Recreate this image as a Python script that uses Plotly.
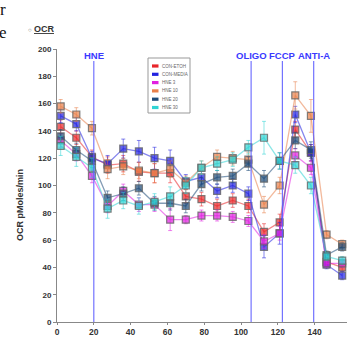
import plotly.graph_objects as go

# ---------------- data ----------------
time_min = [2, 10.5, 19, 27.5, 36, 44.5, 53, 61.5, 70, 78.5, 87, 95.5, 104, 112.5, 121, 129.5, 138, 146.5, 155]

series_names = ["CON-ETOH", "CON-MEDIA", "HNE 3", "HNE 10", "HNE 20", "HNE 30"]
series_colors = ["#e8262a", "#2222e0", "#e020e0", "#e8804a", "#1d4a78", "#30d4d4"]

con_etoh  = [143, 135, 121, 115, 116, 110, 109, 109, 92, 90, 85, 89, 85, 66, 73, 141, 124, 44, 40]
con_media = [151, 145, 120, 116, 127, 125, 120, 118, 103, 106, 96, 100, 94, 55, 65, 152, 124, 42, 34]
hne_3     = [133, 123, 107, 85, 96, 86, 86, 75, 75, 78, 78, 77, 74, 59, 65, 122, 113, 43, 43]
hne_10    = [158, 152, 142, 112, 114, 111, 109, 112, 102, 113, 121, 120, 119, 86, 100, 166, 151, 64, 57]
hne_20    = [136, 126, 118, 91, 94, 98, 87, 87, 85, 101, 106, 107, 116, 105, 118, 133, 126, 49, 55]
hne_30    = [129, 121, 113, 83, 89, 85, 88, 92, 100, 113, 116, 119, 128, 135, 118, 115, 100, 48, 45]

err_etoh  = [5, 5, 5, 6, 6, 7, 7, 7, 5, 5, 5, 5, 5, 6, 6, 6, 6, 3, 3]
err_media = [5, 5, 5, 6, 7, 8, 8, 8, 5, 5, 5, 5, 5, 8, 8, 6, 6, 3, 3]
err_3     = [5, 5, 5, 5, 5, 5, 5, 8, 3, 4, 4, 4, 4, 5, 5, 5, 5, 3, 3]
err_10    = [5, 5, 5, 7, 6, 6, 7, 6, 5, 5, 5, 5, 5, 6, 6, 10, 12, 3, 3]
err_20    = [5, 5, 5, 5, 5, 5, 5, 5, 5, 5, 5, 5, 5, 6, 6, 6, 6, 3, 3]
err_30    = [7, 7, 7, 7, 6, 6, 6, 7, 6, 5, 5, 5, 5, 12, 6, 6, 6, 3, 3]

series_values = [con_etoh, con_media, hne_3, hne_10, hne_20, hne_30]
series_errors = [err_etoh, err_media, err_3, err_10, err_20, err_30]

injection_times = [20, 105.5, 122.5, 139.5]
injection_labels = ["HNE", "OLIGO", "FCCP", "ANTI-A"]

y_ticks = list(range(0, 201, 20))
x_ticks = list(range(0, 141, 20))

# ---------------- figure ----------------
W, H = 347, 337
L, R, T, B = 57, 0, 49, 15
pw, ph = W - L - R, H - T - B
XMAX = pw / 1.84


def hex_rgba(h, a):
    h = h.lstrip("#")
    return "rgba(%d,%d,%d,%s)" % (int(h[0:2], 16), int(h[2:4], 16), int(h[4:6], 16), a)


def px_x(p):
    return (p - L) / pw


def px_y(p):
    return (H - B - p) / ph


fig = go.Figure()
for name, col, vals, errs in zip(series_names, series_colors, series_values, series_errors):
    fig.add_trace(go.Scatter(
        x=time_min, y=vals, name=name, mode="lines+markers",
        line=dict(color=hex_rgba(col, 0.55), width=1.3),
        marker=dict(symbol="square", size=7, color=hex_rgba(col, 0.7),
                    line=dict(color="rgba(100,100,100,0.8)", width=1.2)),
        error_y=dict(type="data", array=errs, visible=True,
                     color=hex_rgba(col, 0.55), thickness=1, width=2),
        showlegend=False, cliponaxis=False,
    ))

shapes = []
annotations = []
bold = dict(family="Arial, Liberation Sans", weight="bold")

for t, lab in zip(injection_times, injection_labels):
    shapes.append(dict(type="line", xref="x", yref="paper", x0=t, x1=t,
                       y0=0, y1=px_y(61), line=dict(color="rgba(90,90,255,0.85)", width=1.2)))
    annotations.append(dict(xref="x", yref="paper", x=t, y=px_y(55), text=lab,
                            showarrow=False, xanchor="center", yanchor="middle",
                            font=dict(size=9.5, color="#3a3aff", **bold)))

# y-axis title
annotations.append(dict(xref="paper", yref="paper", x=px_x(20), y=px_y(205),
                        text="OCR pMoles/min", textangle=-90, showarrow=False,
                        xanchor="center", yanchor="middle",
                        font=dict(size=9, color="#333333", **bold)))
# top-left title
annotations.append(dict(xref="paper", yref="paper", x=px_x(32), y=px_y(29),
                        text="<u>OCR</u>", showarrow=False, xanchor="left", yanchor="middle",
                        font=dict(size=9, color="#333333", **bold)))
annotations.append(dict(xref="paper", yref="paper", x=px_x(29.5), y=px_y(30),
                        text="○", showarrow=False, xanchor="center", yanchor="middle",
                        font=dict(size=6, color="#555555")))
# cropped document text at left edge
annotations.append(dict(xref="paper", yref="paper", x=px_x(-2), y=px_y(9),
                        text="r", showarrow=False, xanchor="left", yanchor="middle",
                        font=dict(size=17, color="#111111", family="Liberation Serif")))
annotations.append(dict(xref="paper", yref="paper", x=px_x(-3), y=px_y(32),
                        text="e", showarrow=False, xanchor="left", yanchor="middle",
                        font=dict(size=17, color="#111111", family="Liberation Serif")))
# cut-off 160 tick label
annotations.append(dict(xref="x", yref="paper", x=160, y=px_y(331), text="160",
                        showarrow=False, xanchor="center", yanchor="middle",
                        font=dict(size=8.5, color="#333333", **bold)))

# manual legend
lx0, lx1, ly0, ly1 = 148, 190, 58, 113
shapes.append(dict(type="rect", xref="paper", yref="paper",
                   x0=px_x(lx0), x1=px_x(lx1), y0=px_y(ly1), y1=px_y(ly0),
                   line=dict(color="#999999", width=1), fillcolor="white", layer="above"))
for i, (name, col) in enumerate(zip(series_names, series_colors)):
    yy = 66 + i * 8.3
    shapes.append(dict(type="rect", xref="paper", yref="paper",
                       x0=px_x(152), x1=px_x(158.5), y0=px_y(yy + 1.6), y1=px_y(yy - 1.6),
                       line=dict(width=0), fillcolor=col, layer="above"))
    annotations.append(dict(xref="paper", yref="paper", x=px_x(160), y=px_y(yy),
                            text=name, showarrow=False, xanchor="left", yanchor="middle",
                            font=dict(size=4.5, color="#666666", family="Arial, Liberation Sans")))

fig.update_layout(
    width=W, height=H,
    margin=dict(l=L, r=R, t=T, b=B),
    paper_bgcolor="white", plot_bgcolor="white",
    shapes=shapes, annotations=annotations,
    xaxis=dict(range=[0, XMAX], tickvals=x_ticks, showgrid=False, zeroline=False,
               showline=True, linecolor="#888888", linewidth=1,
               ticks="outside", ticklen=2, tickcolor="#888888",
               tickfont=dict(size=8.5, color="#333333", **bold)),
    yaxis=dict(range=[0, 200], tickvals=y_ticks, showgrid=False, zeroline=False,
               showline=True, linecolor="#888888", linewidth=1,
               ticks="outside", ticklen=3, tickcolor="#888888",
               tickfont=dict(size=8, color="#333333", **bold)),
)

fig.write_html("out.html")
